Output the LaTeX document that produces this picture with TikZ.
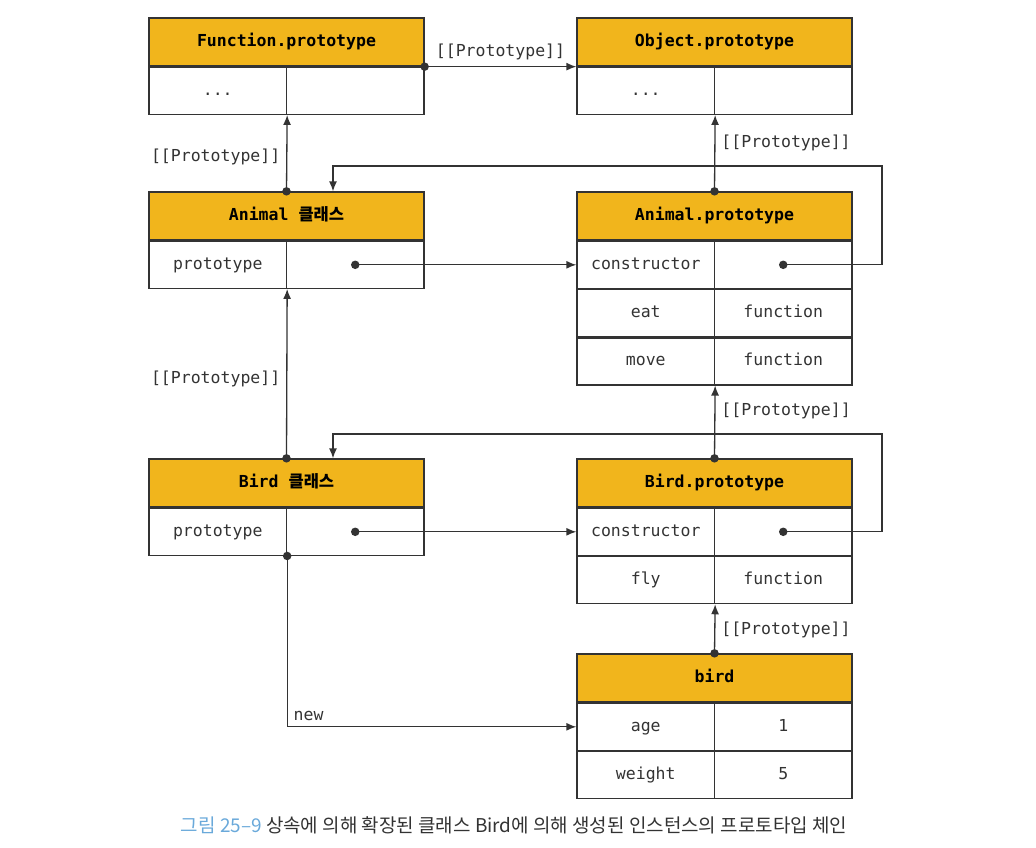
\documentclass[tikz,border=0pt]{standalone}
\usepackage{fontspec}
\setmonofont{DejaVu Sans Mono}
\newfontfamily\krfont{Noto Sans CJK KR}
\usetikzlibrary{arrows.meta}
\definecolor{hdrgold}{HTML}{F1B51C}
\definecolor{linegray}{HTML}{333333}
\definecolor{capblue}{HTML}{6AA9DA}
\tikzset{
  hdr/.style={draw=linegray, fill=hdrgold, minimum width=5.5cm, minimum height=0.96cm, inner sep=0pt,
    text height=1.6ex, text depth=0.45ex, font=\ttfamily\bfseries\fontsize{9.4}{11}\selectfont},
  cell/.style={draw=linegray, minimum width=2.75cm, minimum height=0.94cm, inner sep=0pt,
    text height=1.6ex, text depth=0.45ex, font=\ttfamily\fontsize{9.4}{11}\selectfont, text=black!80},
  link/.style={draw=linegray, -{Latex[length=2mm,width=1.6mm]}},
  lbl/.style={font=\ttfamily\fontsize{9.4}{11}\selectfont, text=black!80},
}
\begin{document}
\begin{tikzpicture}[x=0.02cm,y=-0.02cm,line width=0.75pt]
  \useasboundingbox (0,0) rectangle (1036,848);
  \node[hdr] (fp) at (286.5,42) {Function.prototype};
  \node[cell, anchor=north west] (fp1) at (fp.south west) {...};
  \node[cell, anchor=north east] (fp2) at (fp.south east) {};
  \node[hdr] (op) at (714.5,42) {Object.prototype};
  \node[cell, anchor=north west] (op1) at (op.south west) {...};
  \node[cell, anchor=north east] (op2) at (op.south east) {};
  \node[hdr] (ac) at (286.5,216) {Animal {\krfont\bfseries 클래스}};
  \node[cell, anchor=north west] (ac1) at (ac.south west) {prototype};
  \node[cell, anchor=north east] (ac2) at (ac.south east) {};
  \node[hdr] (ap) at (714.5,216) {Animal.prototype};
  \node[cell, anchor=north west] (ap1) at (ap.south west) {constructor};
  \node[cell, anchor=north east] (ap2) at (ap.south east) {};
  \node[cell, anchor=north west] (ap3) at (ap1.south west) {eat};
  \node[cell, anchor=north east] (ap4) at (ap2.south east) {function};
  \node[cell, anchor=north west] (ap5) at (ap3.south west) {move};
  \node[cell, anchor=north east] (ap6) at (ap4.south east) {function};
  \node[hdr] (bc) at (286.5,483) {Bird {\krfont\bfseries 클래스}};
  \node[cell, anchor=north west] (bc1) at (bc.south west) {prototype};
  \node[cell, anchor=north east] (bc2) at (bc.south east) {};
  \node[hdr] (bp) at (714.5,483) {Bird.prototype};
  \node[cell, anchor=north west] (bp1) at (bp.south west) {constructor};
  \node[cell, anchor=north east] (bp2) at (bp.south east) {};
  \node[cell, anchor=north west] (bp3) at (bp1.south west) {fly};
  \node[cell, anchor=north east] (bp4) at (bp2.south east) {function};
  \node[hdr] (bd) at (714.5,678) {bird};
  \node[cell, anchor=north west] (bd1) at (bd.south west) {age};
  \node[cell, anchor=north east] (bd2) at (bd.south east) {1};
  \node[cell, anchor=north west] (bd3) at (bd1.south west) {weight};
  \node[cell, anchor=north east] (bd4) at (bd2.south east) {5};
  \coordinate (aloop) at (882,166);
  \coordinate (bloop) at (882,434);
  \draw[link] (fp.south east) -- node[lbl, above] {[[Prototype]]} (op.south west);
  \draw[link] (ac.north) -- node[lbl, pos=0.45, left] {[[Prototype]]} (fp1.south east);
  \draw[link] (ap.north) -- node[lbl, pos=0.63, right] {[[Prototype]]} (op1.south east);
  \draw[link] (bc.north) -- node[lbl, pos=0.47, left] {[[Prototype]]} (ac1.south east);
  \draw[link] (bp.north) -- node[lbl, pos=0.65, right] {[[Prototype]]} (ap5.south east);
  \draw[link] (bd.north) -- node[lbl, pos=0.48, right] {[[Prototype]]} (bp3.south east);
  \draw[link] (ac2.center) -- (ap1.west);
  \draw[link] (bc2.center) -- (bp1.west);
  \draw[link] (ap2.center) -| (aloop) -| ([xshift=0.93cm]ac.north);
  \draw[link] (bp2.center) -| (bloop) -| ([xshift=0.93cm]bc.north);
  \draw[link] (bc1.south east) |- node[lbl, pos=0.5, above right] {new} (bd1.west);
  \foreach \p in {fp.south east, ac.north, ap.north, bc.north, bp.north, bd.north,
                  ac2.center, ap2.center, bc2.center, bp2.center, bc1.south east}
    \fill[linegray] (\p) circle (0.085cm);
  \node[font=\krfont\fontsize{10.8}{13}\selectfont, text=black!80] (cap) at (514,825)
    {{\color{capblue}그림 25–9} 상속에 의해 확장된 클래스 Bird에 의해 생성된 인스턴스의 프로토타입 체인};
\end{tikzpicture}
\end{document}
